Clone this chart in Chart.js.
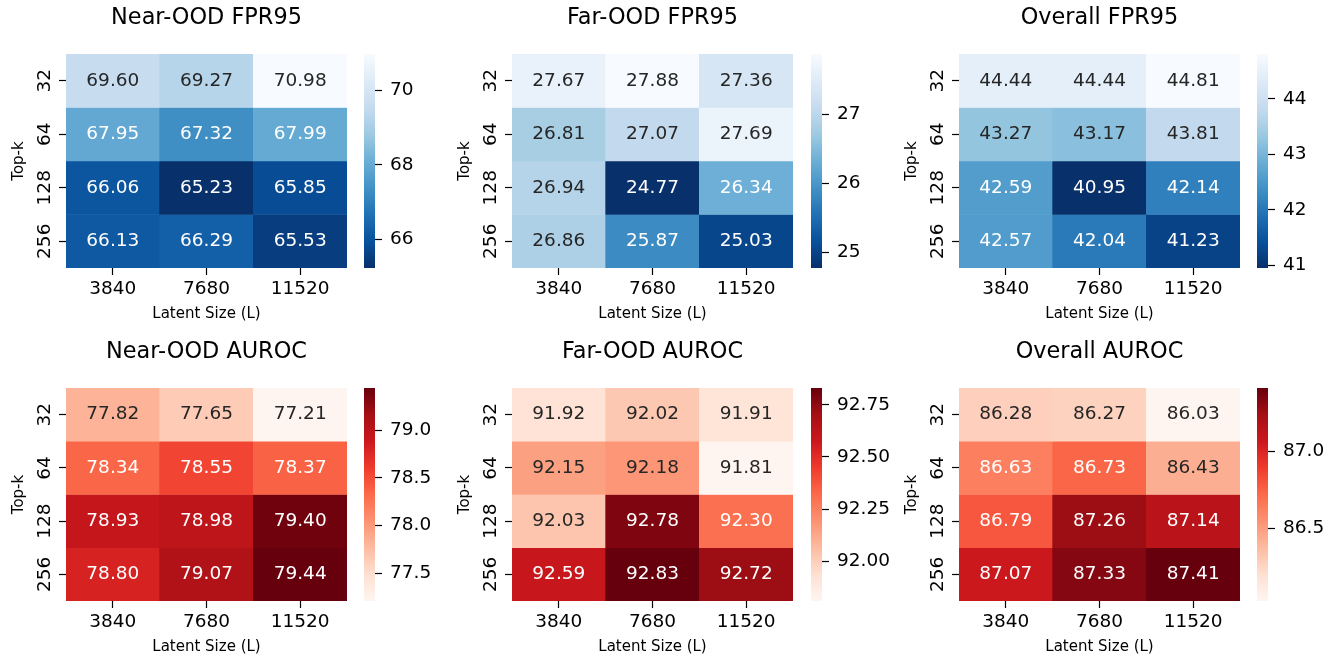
<!DOCTYPE html>
<html>
<head>
<meta charset="utf-8">
<script src="https://cdn.jsdelivr.net/npm/chart.js@4.4.1/dist/chart.umd.min.js"></script>
<style>
  html, body { margin: 0; padding: 0; background: #fff; width: 1335px; height: 656px; overflow: hidden; }
  canvas { position: absolute; }
</style>
</head>
<body>
<script>
// ---- data ----
const latentSizes = ['3840', '7680', '11520'];
const topK = ['32', '64', '128', '256'];

// rows follow topK, columns follow latentSizes
const nearFPR95 = [
  [69.60, 69.27, 70.98],
  [67.95, 67.32, 67.99],
  [66.06, 65.23, 65.85],
  [66.13, 66.29, 65.53]
];
const farFPR95 = [
  [27.67, 27.88, 27.36],
  [26.81, 27.07, 27.69],
  [26.94, 24.77, 26.34],
  [26.86, 25.87, 25.03]
];
const overallFPR95 = [
  [44.44, 44.44, 44.81],
  [43.27, 43.17, 43.81],
  [42.59, 40.95, 42.14],
  [42.57, 42.04, 41.23]
];
const nearAUROC = [
  [77.82, 77.65, 77.21],
  [78.34, 78.55, 78.37],
  [78.93, 78.98, 79.40],
  [78.80, 79.07, 79.44]
];
const farAUROC = [
  [91.92, 92.02, 91.91],
  [92.15, 92.18, 91.81],
  [92.03, 92.78, 92.30],
  [92.59, 92.83, 92.72]
];
const overallAUROC = [
  [86.28, 86.27, 86.03],
  [86.63, 86.73, 86.43],
  [86.79, 87.26, 87.14],
  [87.07, 87.33, 87.41]
];

// colour-bar tick values
const cbTicksNearFPR95 = [66, 68, 70];
const cbTicksFarFPR95 = [25, 26, 27];
const cbTicksOverallFPR95 = [41, 42, 43, 44];
const cbTicksNearAUROC = [77.5, 78.0, 78.5, 79.0];
const cbTicksFarAUROC = [92.00, 92.25, 92.50, 92.75];
const cbTicksOverallAUROC = [86.5, 87.0];

const panelTitles = ['Near-OOD FPR95', 'Far-OOD FPR95', 'Overall FPR95',
                     'Near-OOD AUROC', 'Far-OOD AUROC', 'Overall AUROC'];
const xAxisTitle = 'Latent Size (L)';
const yAxisTitle = 'Top-k';

// ---- styling / layout ----
const FONT = '"DejaVu Sans", sans-serif';
const TICK_SIZE = 18.5;
const TITLE_SIZE = 22.4;
const LABEL_SIZE = 15;

const ROW_TOP = [54, 388];
const ROW_BOTTOM = [268, 601];
const COL_LEFT = [66, 512, 959];
const CB_LEFT = [364, 811, 1257];
const HM_W = 281;
const CB_W = 11;
const TITLE_H = 54;
const X_AXIS_H = 62;
const Y_AXIS_W = 66;
const CB_AXIS_W = 76;

const BLUES = ['#f7fbff', '#deebf7', '#c6dbef', '#9ecae1', '#6baed6', '#4292c6', '#2171b5', '#08519c', '#08306b'];
const REDS = ['#fff5f0', '#fee0d2', '#fcbba1', '#fc9272', '#fb6a4a', '#ef3b2c', '#cb181d', '#a50f15', '#67000d'];

function hexToRgb(h) {
  return [parseInt(h.slice(1, 3), 16), parseInt(h.slice(3, 5), 16), parseInt(h.slice(5, 7), 16)];
}
function sample(stops, t) {
  t = Math.min(1, Math.max(0, t));
  const p = t * (stops.length - 1);
  const i = Math.min(Math.floor(p), stops.length - 2);
  const f = p - i;
  const a = hexToRgb(stops[i]), b = hexToRgb(stops[i + 1]);
  return a.map((v, k) => Math.round(v + (b[k] - v) * f));
}
const CMAPS = {
  blues_r: t => sample(BLUES, 1 - t),
  reds: t => sample(REDS, t)
};
const rgbStr = c => `rgb(${c[0]},${c[1]},${c[2]})`;
function luminance(c) {
  const lin = v => { v /= 255; return v <= 0.03928 ? v / 12.92 : Math.pow((v + 0.055) / 1.055, 2.4); };
  return 0.2126 * lin(c[0]) + 0.7152 * lin(c[1]) + 0.0722 * lin(c[2]);
}

const panels = [
  { values: nearFPR95, cbTicks: cbTicksNearFPR95, decimals: 0, cmap: 'blues_r' },
  { values: farFPR95, cbTicks: cbTicksFarFPR95, decimals: 0, cmap: 'blues_r' },
  { values: overallFPR95, cbTicks: cbTicksOverallFPR95, decimals: 0, cmap: 'blues_r' },
  { values: nearAUROC, cbTicks: cbTicksNearAUROC, decimals: 1, cmap: 'reds' },
  { values: farAUROC, cbTicks: cbTicksFarAUROC, decimals: 2, cmap: 'reds' },
  { values: overallAUROC, cbTicks: cbTicksOverallAUROC, decimals: 1, cmap: 'reds' }
].map((p, i) => Object.assign(p, { title: panelTitles[i], row: Math.floor(i / 3), col: i % 3 }));

function makeCanvas(left, top, width, height) {
  const c = document.createElement('canvas');
  c.width = width; c.height = height;
  c.style.left = left + 'px'; c.style.top = top + 'px';
  c.style.width = width + 'px'; c.style.height = height + 'px';
  document.body.appendChild(c);
  return c;
}

const tickGrid = {
  display: true, drawOnChartArea: false, drawTicks: true,
  tickLength: 7, tickWidth: 1.2, tickColor: '#000', offset: false
};
const tickFont = { family: FONT, size: TICK_SIZE };

// value labels written in the middle of every cell
function cellLabelPlugin(values, colorOf) {
  return {
    id: 'cellLabels',
    afterDatasetsDraw(chart) {
      const { ctx, scales: { x, y } } = chart;
      ctx.save();
      ctx.font = `${TICK_SIZE}px ${FONT}`;
      ctx.textAlign = 'center';
      ctx.textBaseline = 'middle';
      values.forEach((row, r) => row.forEach((v, c) => {
        ctx.fillStyle = luminance(colorOf(v)) > 0.408 ? '#262626' : '#ffffff';
        ctx.fillText(v.toFixed(2), x.getPixelForValue(c), y.getPixelForValue(r + 0.5));
      }));
      ctx.restore();
    }
  };
}

function drawPanel(p) {
  const flat = p.values.flat();
  const vmin = Math.min(...flat), vmax = Math.max(...flat);
  const cmap = CMAPS[p.cmap];
  const colorOf = v => cmap((v - vmin) / (vmax - vmin));
  const hmH = ROW_BOTTOM[p.row] - ROW_TOP[p.row];
  const canvasH = TITLE_H + hmH + X_AXIS_H;
  const top = ROW_TOP[p.row] - TITLE_H;

  // heatmap: one floating-bar dataset per Top-k row
  const hm = makeCanvas(COL_LEFT[p.col] - Y_AXIS_W, top, Y_AXIS_W + HM_W, canvasH);
  new Chart(hm, {
    type: 'bar',
    data: {
      labels: latentSizes,
      datasets: topK.map((k, r) => ({
        label: k,
        data: p.values[r].map(() => [r, r + 1]),
        backgroundColor: p.values[r].map(v => rgbStr(colorOf(v))),
        borderWidth: 0,
        grouped: false,
        barPercentage: 1,
        categoryPercentage: 1
      }))
    },
    options: {
      responsive: false,
      animation: false,
      events: [],
      layout: { padding: 0 },
      plugins: {
        legend: { display: false },
        tooltip: { enabled: false },
        title: {
          display: true, text: p.title, fullSize: false, color: '#000',
          font: { family: FONT, size: TITLE_SIZE, weight: 'normal', lineHeight: 1.2 },
          padding: { top: 5, bottom: TITLE_H - 5 - TITLE_SIZE * 1.2 }
        }
      },
      scales: {
        x: {
          type: 'category',
          offset: true,
          grid: tickGrid,
          border: { display: false },
          ticks: { color: '#000', font: tickFont, padding: 3, maxRotation: 0, autoSkip: false },
          title: { display: true, text: xAxisTitle, color: '#000',
                   font: { family: FONT, size: LABEL_SIZE }, padding: { top: 0, bottom: 7 } },
          afterFit: s => { s.height = X_AXIS_H; }
        },
        y: {
          type: 'linear',
          reverse: true,
          min: 0,
          max: topK.length,
          afterBuildTicks: s => { s.ticks = topK.map((_, i) => ({ value: i + 0.5 })); },
          grid: tickGrid,
          border: { display: false },
          ticks: {
            callback: (v, i) => topK[i],
            minRotation: 90, maxRotation: 90,
            crossAlign: 'center', padding: -3.5,
            color: '#000', font: tickFont, autoSkip: false
          },
          title: { display: true, text: yAxisTitle, color: '#000',
                   font: { family: FONT, size: LABEL_SIZE }, padding: { top: 10, bottom: 0 } },
          afterFit: s => { s.width = Y_AXIS_W; }
        }
      }
    },
    plugins: [cellLabelPlugin(p.values, colorOf)]
  });

  // colour bar: a single floating bar from vmin to vmax filled with the colormap
  const cb = makeCanvas(CB_LEFT[p.col], top, CB_W + CB_AXIS_W, canvasH);
  new Chart(cb, {
    type: 'bar',
    data: {
      labels: [''],
      datasets: [{
        data: [[vmin, vmax]],
        backgroundColor: (ctx) => {
          const chart = ctx.chart;
          if (!chart.chartArea) return 'rgba(0,0,0,0)';
          const y = chart.scales.y;
          const g = chart.ctx.createLinearGradient(0, y.getPixelForValue(vmin), 0, y.getPixelForValue(vmax));
          for (let i = 0; i <= 64; i++) g.addColorStop(i / 64, rgbStr(cmap(i / 64)));
          return g;
        },
        borderWidth: 0,
        inflateAmount: 0,
        barPercentage: 1,
        categoryPercentage: 1
      }]
    },
    options: {
      responsive: false,
      animation: false,
      events: [],
      layout: { padding: { top: TITLE_H, bottom: X_AXIS_H, left: 0, right: 0 } },
      plugins: { legend: { display: false }, tooltip: { enabled: false }, title: { display: false } },
      scales: {
        x: { display: false, offset: true },
        y: {
          type: 'linear',
          position: 'right',
          min: vmin,
          max: vmax,
          afterBuildTicks: s => { s.ticks = p.cbTicks.map(v => ({ value: v })); },
          grid: tickGrid,
          border: { display: false },
          ticks: { callback: v => Number(v).toFixed(p.decimals), padding: 8, color: '#000', font: tickFont, autoSkip: false },
          afterFit: s => { s.width = CB_AXIS_W; }
        }
      }
    }
  });
}

panels.forEach(drawPanel);
</script>
</body>
</html>
